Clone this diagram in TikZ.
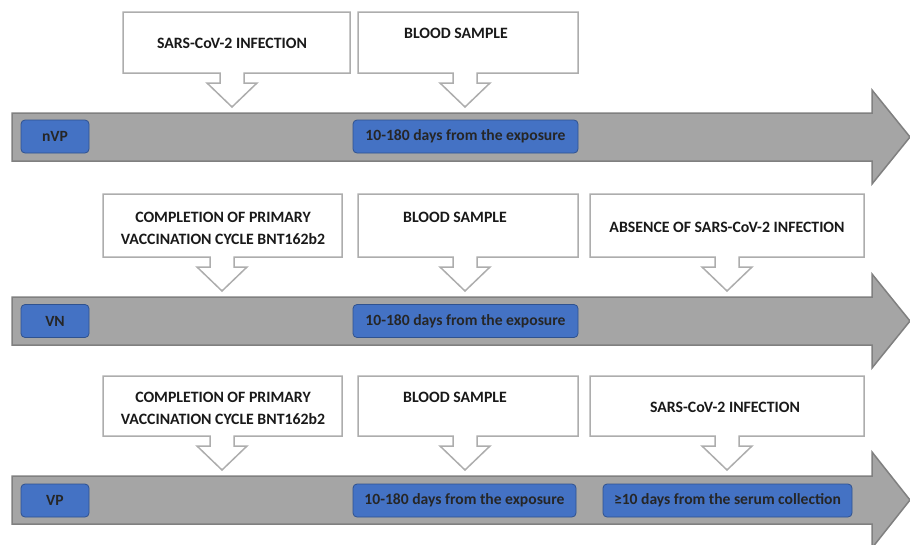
\documentclass[tikz,border=0pt]{standalone}
\usepackage{fontspec}
\setmainfont{Carlito}
\usepackage{tikz}
\usetikzlibrary{positioning, calc}

\definecolor{bandgray}{HTML}{A5A5A5}
\definecolor{bandedge}{HTML}{808080}
\definecolor{tagblue}{HTML}{4472C4}
\definecolor{tagedge}{HTML}{2F528F}
\definecolor{calloutedge}{HTML}{ADADAD}

\begin{document}
\begin{tikzpicture}[x=1pt, y=-1pt,
    band/.style={fill=bandgray, draw=bandedge, line width=1.5pt},
    callout/.style={fill=white, draw=calloutedge, line width=1.5pt},
    boxtext/.style={font=\bfseries\fontsize{15.8}{22}\selectfont, align=center, text=black!90},
    daytag/.style={rectangle, rounded corners=4pt, fill=tagblue, draw=tagedge, line width=0.8pt,
                   minimum height=33pt, inner sep=0pt, font=\bfseries\fontsize{15.6}{18}\selectfont, text=black!85}]

    \useasboundingbox (0,0) rectangle (910,544);

    % ---------------- nVP row ----------------
    % Timeline band with its arrow head
    \draw[band] (12,113) -- (872,113) -- (872,90) -- (910,137) -- (872,184) -- (872,161) -- (12,161) -- cycle;

    % Callouts pointing down onto the band
    \draw[callout] (123,12) -- (350,12) -- (350,73) -- (244,73) -- (244,83) -- (257,83) -- (232,107)
                   -- (207,83) -- (220,83) -- (220,73) -- (123,73) -- cycle;
    \draw[callout] (358,12) -- (578,12) -- (578,73) -- (477,73) -- (477,83) -- (490,83) -- (465,107)
                   -- (440,83) -- (453,83) -- (453,73) -- (358,73) -- cycle;
    \node[boxtext] (infA) at (232,43) {SARS-CoV-2 INFECTION};
    \node[boxtext] (bloodA) at (456,33) {BLOOD SAMPLE};

    % Group and interval tags
    \node[daytag, minimum width=68pt] (nvp) at (55,136.5) {nVP};
    \node[daytag, minimum width=225pt] (daysA) at (465.5,136.5) {10-180 days from the exposure};

    % ---------------- VN row ----------------
    \draw[band] (12,297) -- (872,297) -- (872,274) -- (910,321) -- (872,368) -- (872,345) -- (12,345) -- cycle;

    \draw[callout] (103,194) -- (342,194) -- (342,257) -- (234,257) -- (234,267) -- (247,267) -- (222,291)
                   -- (197,267) -- (210,267) -- (210,257) -- (103,257) -- cycle;
    \draw[callout] (358,194) -- (578,194) -- (578,257) -- (477,257) -- (477,267) -- (490,267) -- (465,291)
                   -- (440,267) -- (453,267) -- (453,257) -- (358,257) -- cycle;
    \draw[callout] (590,194) -- (864,194) -- (864,257) -- (739,257) -- (739,267) -- (752,267) -- (727,291)
                   -- (702,267) -- (715,267) -- (715,257) -- (590,257) -- cycle;
    \node[boxtext] (vaccB) at (223,228) {COMPLETION OF PRIMARY\\VACCINATION CYCLE BNT162b2};
    \node[boxtext] (bloodB) at (455,217) {BLOOD SAMPLE};
    \node[boxtext] (absB) at (727,227) {ABSENCE OF SARS-CoV-2 INFECTION};

    \node[daytag, minimum width=68pt] (vn) at (55,321) {VN};
    \node[daytag, minimum width=225pt] (daysB) at (465.5,321) {10-180 days from the exposure};

    % ---------------- VP row ----------------
    \draw[band] (12,476) -- (872,476) -- (872,452) -- (910,500) -- (872,548) -- (872,524) -- (12,524) -- cycle;

    \draw[callout] (103,376) -- (342,376) -- (342,436) -- (234,436) -- (234,446) -- (247,446) -- (222,470)
                   -- (197,446) -- (210,446) -- (210,436) -- (103,436) -- cycle;
    \draw[callout] (358,376) -- (578,376) -- (578,436) -- (477,436) -- (477,446) -- (490,446) -- (465,470)
                   -- (440,446) -- (453,446) -- (453,436) -- (358,436) -- cycle;
    \draw[callout] (590,376) -- (864,376) -- (864,436) -- (739,436) -- (739,446) -- (752,446) -- (727,470)
                   -- (702,446) -- (715,446) -- (715,436) -- (590,436) -- cycle;
    \node[boxtext] (vaccC) at (223,408) {COMPLETION OF PRIMARY\\VACCINATION CYCLE BNT162b2};
    \node[boxtext] (bloodC) at (455,397) {BLOOD SAMPLE};
    \node[boxtext] (infC) at (725,407) {SARS-CoV-2 INFECTION};

    \node[daytag, minimum width=68pt] (vp) at (55,500.5) {VP};
    \node[daytag, minimum width=223pt] (daysC) at (464.5,500.5) {10-180 days from the exposure};
    \node[daytag, minimum width=249pt] (serum) at (727.5,500.5) {≥10 days from the serum collection};

\end{tikzpicture}
\end{document}
